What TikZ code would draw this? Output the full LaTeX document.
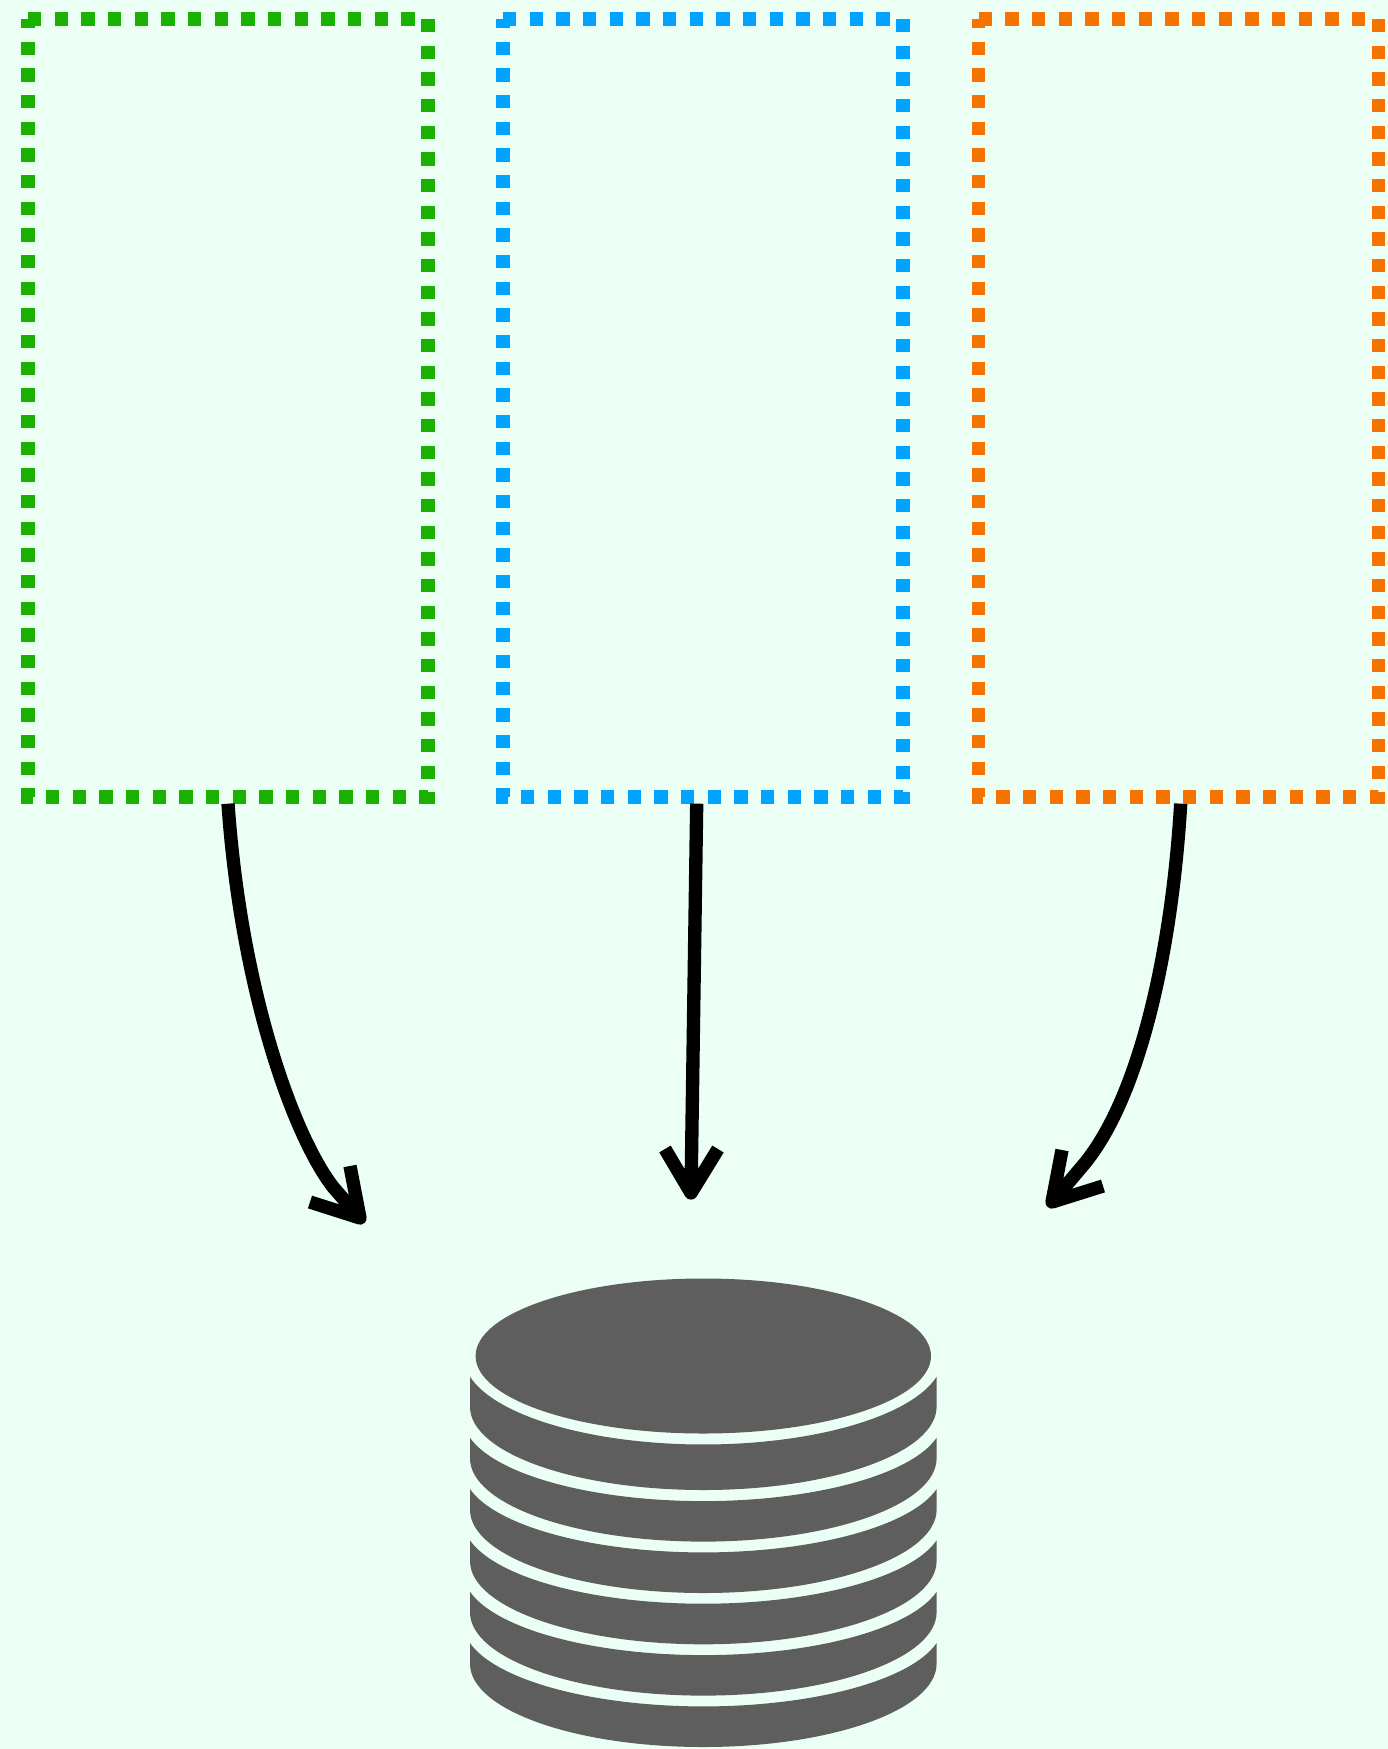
\documentclass[tikz,border=0pt]{standalone}
\usepackage{tikz}
\definecolor{bgmint}{HTML}{EBFFF4}
\definecolor{boxgreen}{HTML}{1BB100}
\definecolor{boxblue}{HTML}{00A3FF}
\definecolor{boxorange}{HTML}{F57400}
\definecolor{dbgray}{HTML}{5E5E5E}
\tikzset{
  area/.style={draw=none,rectangle,inner sep=0pt,outer sep=0pt,minimum width=400pt,minimum height=778pt},
  dashedge/.style={line width=13.33pt,dash pattern=on 13.334pt off 13.334pt,line cap=butt,line join=miter},
  conn/.style={draw=black,line width=13.33pt,line cap=butt,line join=round},
  dbfill/.style={fill=dbgray,draw=none}
}
\begin{document}
\begin{tikzpicture}[x=1pt,y=1pt]
\useasboundingbox (0,0) rectangle (1388,-1749);
\fill[bgmint] (0,0) rectangle (1388,-1749);
% boxes
\node[area] (g) at (228,-408) {};
\node[area] (b) at (703,-408) {};
\node[area] (o) at (1178.5,-408) {};
\draw[dashedge,boxgreen] (g.north west) -- (g.north east) -- (g.south east) -- (g.south west) -- cycle;
\draw[dashedge,boxblue] (b.north west) -- (b.north east) -- (b.south east) -- (b.south west) -- cycle;
\draw[dashedge,boxorange] (o.north west) -- (o.north east) -- (o.south east) -- (o.south west) -- cycle;
% connector ends
\coordinate (gk) at (333,-1187);
\coordinate (gt) at (360,-1218);
\coordinate (g1) at (350,-1166);
\coordinate (g2) at (310,-1202);
\coordinate (bt) at (691,-1193);
\coordinate (b1) at (665,-1149);
\coordinate (b2) at (718,-1149);
\coordinate (ok) at (1085,-1163);
\coordinate (ot) at (1052,-1202);
\coordinate (o1) at (1062,-1150);
\coordinate (o2) at (1103,-1186);
% connectors
\draw[conn] ([yshift=-6.67pt]g.south) .. controls (241,-990) and (293,-1135) .. (gk) -- (gt) (g1) -- (gt) -- (g2);
\draw[conn] ([xshift=-6.3pt,yshift=-6.67pt]b.south) -- (bt) (b1) -- (bt) -- (b2);
\draw[conn] ([xshift=2.2pt,yshift=-6.67pt]o.south) .. controls (1172,-950) and (1140,-1095) .. (ok) -- (ot) (o1) -- (ot) -- (o2);
% database
\fill[dbfill] (703.3,-1356) ellipse [x radius=227.7,y radius=77.5];
\foreach \yc/\ys/\r in {1376.7/1406.7/88.4,1437.7/1458.3/82.7,1489/1509.7/82.7,1540.3/1561/82.7,1591.7/1612.3/82.7,1643/1663.7/82.7}{
  \fill[dbfill] (470,-\yc) -- (470,-\ys)
    arc[start angle=180,end angle=360,x radius=233.3,y radius=83.3]
    -- (936.7,-\yc)
    arc[start angle=-13.5,end angle=-166.5,x radius=240,y radius=\r] -- cycle;
}
\end{tikzpicture}
\end{document}
